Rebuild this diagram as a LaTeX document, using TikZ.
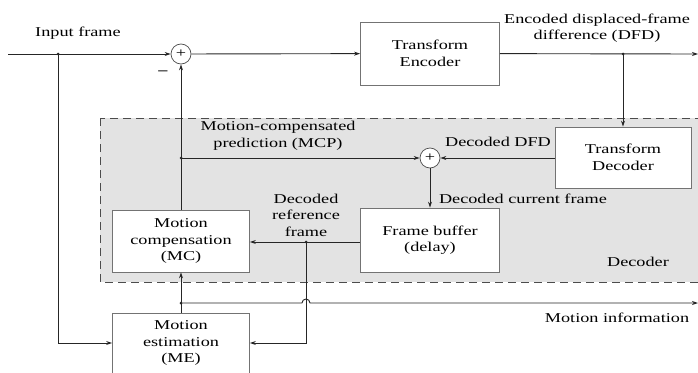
\documentclass[tikz,border=0pt]{standalone}
\usepackage{fontspec}
\setmainfont{Liberation Serif}[FakeStretch=1.35]
\usetikzlibrary{arrows.meta}
\begin{document}
\begin{tikzpicture}[x=1pt,y=-1pt,
  every node/.style={font=\fontsize{13.5}{16.5}\selectfont, inner sep=0pt},
  blk/.style={draw=black!55, fill=white, line width=0.8pt},
  sum/.style={circle, draw=black!70, fill=white, minimum size=20pt, line width=0.7pt},
  conn/.style={draw=black!85, line width=0.9pt},
  arr/.style={conn, -{Stealth[length=6pt,width=4pt]}},
  dot/.style={circle, fill=black!85, minimum size=3pt, inner sep=0pt},
  lbl/.style={align=center}]
\useasboundingbox (0,0) rectangle (698,372);
\clip (0,0) rectangle (698,372);
% decoder region
\draw[fill=black!11, draw=black!70, line width=0.8pt, dash pattern=on 8pt off 5pt] (100,118) rectangle (712,282);
% blocks
\node[blk, minimum width=139pt, minimum height=63pt, align=center] (enc) at (430,53.5) {Transform\\Encoder};
\node[blk, minimum width=136pt, minimum height=61pt, align=center] (dec) at (623,157.5) {Transform\\Decoder};
\node[blk, minimum width=139pt, minimum height=64pt, align=center] (fb) at (430,240) {Frame buffer\\(delay)};
\node[blk, minimum width=137pt, minimum height=62pt, align=center] (mc) at (181,241) {Motion\\compensation\\(MC)};
\node[blk, minimum width=137pt, minimum height=74pt, anchor=north, align=center] (me) at (181,313) {};
\node[lbl] at (181,343) {Motion\\estimation\\(ME)};
\node[sum] (s1) at (181,54) {+};
\node[sum] (s2) at (430,158) {+};
% coordinates
\coordinate (in0) at (8,54);
\coordinate (out1) at (698,54);
\node[dot] (j1) at (58,54) {};
\node[dot] (j2) at (623,54) {};
\node[dot] (j3) at (181,158) {};
\node[dot] (j4) at (306,242) {};
\node[dot] (j5) at (181,303) {};
\coordinate (mi) at (698,303);
\coordinate (c1) at (58,343);
\coordinate (c2) at (306,343);
\coordinate (hopa) at (302,303);
% connectors
\draw[arr] (in0) -- (s1);
\draw[arr] (s1) -- (enc);
\draw[arr] (enc) -- (out1);
\draw[arr] (j2.center) -- (j2 |- dec.north);
\draw[arr] (mc.north) -- (s1);
\draw[arr] (j3.center) -- (s2);
\draw[arr] (dec.west |- s2) -- (s2);
\draw[arr] (s2) -- (fb.north);
\draw[arr] (fb.west |- j4) -- (mc.east |- j4);
\draw[arr] (j4.center) -- (c2) -- (me.east |- c2);
\draw[arr] (j1.center) -- (c1) -- (me.west |- c1);
\draw[arr] (me.north) -- (mc.south);
\draw[arr] (j5.center) -- (hopa) arc[start angle=180, end angle=0, radius=4pt] -- (mi);
% labels
\node at (78,33) {Input frame};
\node at (163,73) {\textbf{–}};
\node[lbl] at (597,28) {Encoded displaced-frame\\difference (DFD)};
\node[lbl] at (278,136) {Motion-compensated\\prediction (MCP)};
\node at (498,142) {Decoded DFD};
\node at (523,199) {Decoded current frame};
\node[lbl] at (306,215) {Decoded\\reference\\frame};
\node at (638,262) {Decoder};
\node at (617,318) {Motion information};
\end{tikzpicture}
\end{document}
